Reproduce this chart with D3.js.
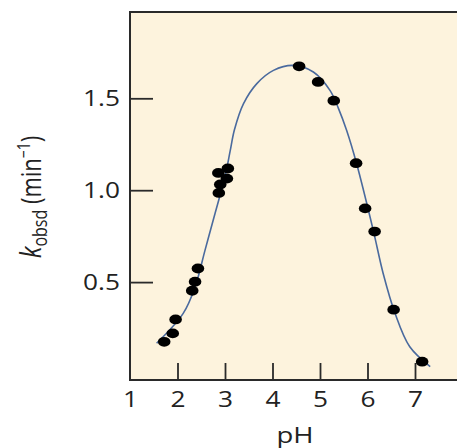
<!DOCTYPE html>
<html>
<head>
<meta charset="utf-8">
<script src="https://cdn.jsdelivr.net/npm/d3@7"></script>
<style>
  body { margin: 0; background: #fff; }
  text { font-family: "Open Sans", "Noto Sans", sans-serif; fill: #222; }
</style>
</head>
<body>
<svg id="chart" width="457" height="448"></svg>
<script>
// measured points (pH, k_obsd)
var pointPH = [1.72, 1.9, 1.96, 2.31, 2.37, 2.43, 2.87, 2.9, 2.86, 3.04, 3.06, 4.56, 4.96, 5.29, 5.76, 5.95, 6.15, 6.55, 7.15];
var pointK  = [0.175, 0.221, 0.297, 0.453, 0.502, 0.574, 0.985, 1.031, 1.094, 1.063, 1.118, 1.674, 1.589, 1.487, 1.147, 0.901, 0.775, 0.35, 0.067];

// fitted curve
var curvePH = [1.56, 2.12, 2.37, 2.58, 2.79, 2.93, 3.03, 3.11, 3.2, 3.39, 3.67, 4.02, 4.44, 4.86, 5.21, 5.39, 5.56, 5.77, 6.12, 6.33, 6.58, 6.89, 7.32];
var curveK  = [0.167, 0.33, 0.474, 0.674, 0.873, 1.005, 1.11, 1.215, 1.33, 1.471, 1.58, 1.652, 1.679, 1.643, 1.543, 1.444, 1.326, 1.145, 0.783, 0.547, 0.33, 0.148, 0.04];

var xTicks = [1, 2, 3, 4, 5, 6, 7];
var yTicks = [0.5, 1.0, 1.5];

var svg = d3.select("#chart");

var plotLeft = 130, plotTop = 12, plotBottom = 380, plotRight = 470;

var x = d3.scaleLinear().domain([1, 7]).range([130, 415]);
var y = d3.scaleLinear().domain([0, 1.5]).range([374, 98.3]);

// background panel
svg.append("rect")
    .attr("x", plotLeft).attr("y", plotTop)
    .attr("width", plotRight - plotLeft).attr("height", plotBottom - plotTop)
    .attr("fill", "#fdf3dd");

///////////////////////
// Axes
var xAxis = d3.axisBottom(x).tickValues(xTicks).tickSizeInner(-17).tickSizeOuter(0).tickFormat(d3.format("d"));
var gx = svg.append("g").attr("transform", "translate(0," + plotBottom + ")").call(xAxis);
gx.select(".domain").remove();
gx.selectAll(".tick line").attr("stroke", "#2a2a2a").attr("stroke-width", 1.8)
    .filter(function(d) { return d === 1; }).remove();
gx.selectAll(".tick text")
    .attr("y", 0).attr("dy", 0)
    .attr("transform", "translate(0,27) scale(1.25,1)")
    .attr("font-size", 21).attr("fill", "#222");

var yAxis = d3.axisLeft(y).tickValues(yTicks).tickSizeInner(-23).tickSizeOuter(0).tickFormat(d3.format(".1f"));
var gy = svg.append("g").attr("transform", "translate(" + plotLeft + ",0)").call(yAxis);
gy.select(".domain").remove();
gy.selectAll(".tick line").attr("stroke", "#2a2a2a").attr("stroke-width", 1.8);
gy.selectAll(".tick text")
    .attr("x", 0).attr("dy", "0.36em")
    .attr("text-anchor", "end")
    .attr("transform", "translate(-10,0) scale(1.25,1)")
    .attr("font-size", 21).attr("fill", "#222");

// frame (left + top + bottom)
svg.append("path")
    .attr("d", "M" + plotRight + "," + plotTop + "H" + plotLeft + "V" + plotBottom + "H" + plotRight)
    .attr("fill", "none").attr("stroke", "#2a2a2a").attr("stroke-width", 2);

///////////////////////
// Curve
var curveData = curvePH.map(function(p, i) { return [p, curveK[i]]; });
var line = d3.line()
    .x(function(d) { return x(d[0]); })
    .y(function(d) { return y(d[1]); })
    .curve(d3.curveCatmullRom);

svg.append("path")
    .datum(curveData)
    .attr("d", line)
    .attr("fill", "none")
    .attr("stroke", "#4a6a9e")
    .attr("stroke-width", 1.6);

///////////////////////
// Points
var pts = pointPH.map(function(p, i) { return { ph: p, k: pointK[i] }; });
svg.append("g").selectAll("ellipse")
    .data(pts)
  .enter().append("ellipse")
    .attr("cx", function(d) { return x(d.ph); })
    .attr("cy", function(d) { return y(d.k); })
    .attr("rx", 6.3)
    .attr("ry", 4.9)
    .attr("fill", "#000");

///////////////////////
// Labels
svg.append("text")
    .attr("transform", "translate(295,443) scale(1.25,1)")
    .attr("text-anchor", "middle")
    .attr("font-size", 22)
    .text("pH");

var yl = svg.append("text")
    .attr("transform", "translate(41,197) rotate(-90) scale(1,1.25)")
    .attr("text-anchor", "middle")
    .attr("font-size", 22);
yl.append("tspan").attr("font-style", "italic").attr("font-size", 24).text("k");
yl.append("tspan").attr("font-size", 16).attr("dy", 5).text("obsd");
yl.append("tspan").attr("dy", -5).text(" (min");
yl.append("tspan").attr("font-size", 14).attr("dy", -9).text("\u22121");
yl.append("tspan").attr("dy", 9).text(")");
</script>
</body>
</html>
